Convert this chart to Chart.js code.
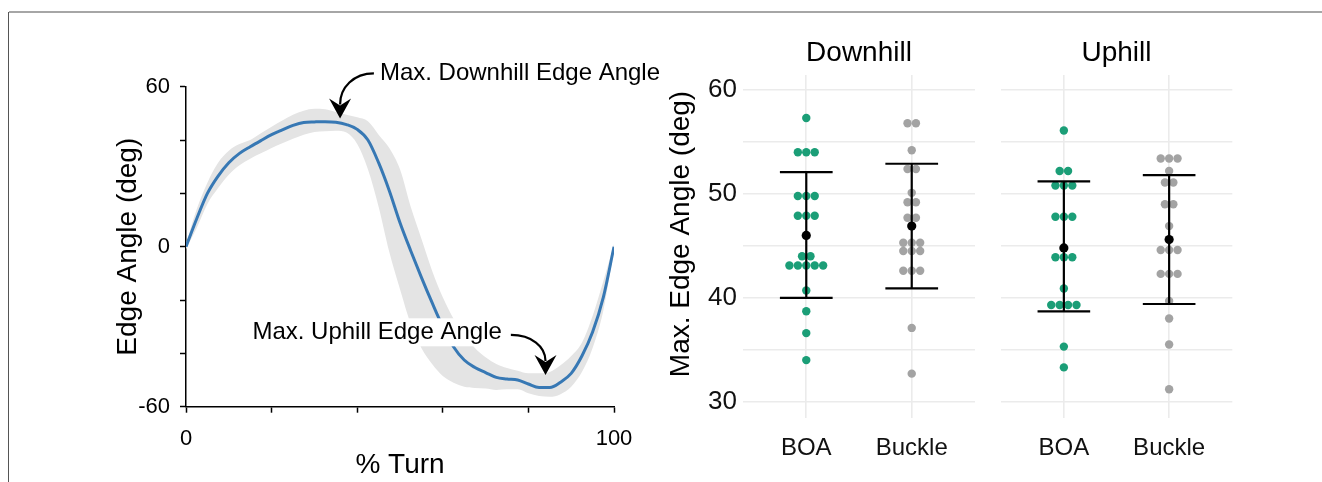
<!DOCTYPE html>
<html><head><meta charset="utf-8">
<script src="https://cdn.jsdelivr.net/npm/chart.js@4.4.1/dist/chart.umd.min.js"></script>
<style>
html,body{margin:0;padding:0;background:#fff;}
body{width:1322px;height:482px;position:relative;overflow:hidden;}
canvas{position:absolute;}
#bt{position:absolute;left:9px;top:11px;width:1313px;height:0;border-top:2px solid #a6a6a6;}
#bl{position:absolute;left:8px;top:12px;width:0;height:470px;border-left:1.5px solid #555;}
</style></head><body>
<div id="bt"></div><div id="bl"></div>
<canvas id="c1" width="660" height="482" style="left:0;top:0"></canvas>
<canvas id="c2" width="330" height="469" style="left:660px;top:13px"></canvas>
<canvas id="c3" width="332" height="469" style="left:990px;top:13px"></canvas>
<script>
// ---------- Left panel: edge angle over the turn ----------
const turnPct   = [0,2.5,5,7.5,10,12.5,15,17.5,20,22.5,25,27.5,30,32.5,35,37.5,40,42.5,45,47.5,50,52.5,55,57.5,60,62.5,65,67.5,70,72.5,75,77.5,80,82.5,85,87.5,90,92.5,95,97.5,100];
const edgeMean  = [0,10.5,20,26.5,31.5,35,37.5,39.8,42,43.8,45.5,46.6,46.8,46.9,46.7,45.8,44,40,31.5,21,9,-1.5,-11.5,-21,-30,-37.5,-42.5,-45.3,-47.2,-49,-49.6,-50,-51.5,-52.8,-52.8,-50.8,-47.5,-41,-32,-19,0];
const edgeUpper = [1,14,24,31.5,36,38.5,40,42.5,45,47.3,49.5,51,51.7,51.5,50.5,49.5,48.5,47,42,37,29,15,3,-9,-19,-27,-33,-38,-41.5,-44,-45.5,-46.5,-47.5,-47.5,-47,-44.5,-41,-36,-26,-13,1];
const edgeLower = [-1,7,16,22,27,30.5,33,35,37,38.8,40.5,42,43,43.3,43.5,42.8,38.5,29,15,-2,-16,-29,-38,-44,-48.5,-51,-52.5,-53,-53.2,-53.7,-53.5,-53.5,-55,-56,-56.3,-55.3,-52.5,-47,-38,-24,-1];
const edgeLabelTicks = [-60, 0, 60];
const turnLabelTicks = [0, 100];

// ---------- Right panels: max edge angle ----------
const conditions     = ['BOA', 'Buckle'];
const panelTitles    = ['Downhill', 'Uphill'];
const downhillBOA    = [57.3,54.0,54.0,54.0,49.8,49.8,49.8,47.9,47.9,47.9,44.0,44.0,43.1,43.1,43.1,43.1,43.1,40.7,38.7,36.6,34.0];
const downhillBuckle = [56.8,56.8,54.2,52.4,52.4,50.1,49.2,49.2,47.7,47.7,45.3,45.3,45.3,44.5,44.5,44.5,42.6,42.6,42.6,37.1,32.7];
const uphillBOA      = [56.1,52.2,52.2,50.8,50.8,50.8,47.8,47.8,47.8,43.9,43.9,43.9,40.9,39.3,39.3,39.3,39.3,35.3,33.3];
const uphillBuckle   = [53.4,53.4,53.4,52.2,51.1,51.1,49.0,49.0,46.9,44.6,44.6,44.6,42.3,42.3,42.3,39.7,38.0,35.5,31.2];
const downhillMean   = [46.0, 46.9];
const downhillLow    = [40.0, 40.9];
const downhillHigh   = [52.1, 52.9];
const uphillMean     = [44.8, 45.6];
const uphillLow      = [38.7, 39.4];
const uphillHigh     = [51.2, 51.8];
const maxAngleTicks  = [30, 35, 40, 45, 50, 55, 60];
const maxAngleLabels = [30, 40, 50, 60];

Chart.defaults.font.family = "'Liberation Sans', Arial, Helvetica, sans-serif";
Chart.defaults.color = '#000';
Chart.defaults.animation = false;

const FONT = "'Liberation Sans', Arial, Helvetica, sans-serif";

// annotations (positions in data units of the left chart)
const annotationDefs = [
  {text:'Max. Downhill Edge Angle', textX:45.3, textY:65.0, align:'left',  startX:43.9, startY:65.0, tipX:36.0, tipY:48.1, bg:false},
  {text:'Max. Uphill Edge Angle',   textX:73.8, textY:-32.1, align:'right', startX:75.9, startY:-33.1, tipX:84.0, tipY:-48.1, bg:true}
];

const annotationPlugin = {
  id: 'annot',
  afterDraw(chart) {
    const ctx = chart.ctx, xs = chart.scales.x, ys = chart.scales.y;
    ctx.save();
    ctx.font = '24px ' + FONT;
    annotationDefs.forEach(a => {
      const tx = xs.getPixelForValue(a.textX), ty = ys.getPixelForValue(a.textY);
      const w = ctx.measureText(a.text).width;
      if (a.bg) {
        ctx.fillStyle = '#fff';
        const left = a.align === 'right' ? tx - w : tx;
        ctx.fillRect(left - 3, ty - 14, w + 6, 28);
      }
      ctx.fillStyle = '#000';
      ctx.textAlign = a.align;
      ctx.textBaseline = 'middle';
      ctx.fillText(a.text, tx, ty);
      // arrow
      const sx = xs.getPixelForValue(a.startX), sy = ys.getPixelForValue(a.startY);
      const px = xs.getPixelForValue(a.tipX), py = ys.getPixelForValue(a.tipY);
      const headLen = 18, headHalf = 11;
      const bx = px, by = py - headLen + 4;
      ctx.beginPath();
      ctx.moveTo(sx, sy);
      ctx.bezierCurveTo(sx + (bx - sx) * 0.6, sy, bx, sy + (by - sy) * 0.45, bx, by);
      ctx.lineWidth = 2.2;
      ctx.strokeStyle = '#000';
      ctx.stroke();
      ctx.beginPath();
      ctx.moveTo(px, py);
      ctx.lineTo(px - headHalf, py - headLen - 2);
      ctx.lineTo(px, py - headLen + 5);
      ctx.lineTo(px + headHalf, py - headLen - 2);
      ctx.closePath();
      ctx.fillStyle = '#000';
      ctx.fill();
    });
    ctx.restore();
  }
};

const pts = arr => turnPct.map((x, i) => ({x, y: arr[i]}));

new Chart(document.getElementById('c1'), {
  type: 'line',
  data: {
    datasets: [
      {data: pts(edgeMean), borderColor: '#3778b4', borderWidth: 3, pointRadius: 0, fill: false, cubicInterpolationMode: 'monotone', order: 0},
      {data: pts(edgeUpper), borderWidth: 0, borderColor: 'rgba(0,0,0,0)', pointRadius: 0, fill: '+1', backgroundColor: '#e4e4e4', cubicInterpolationMode: 'monotone', order: 2},
      {data: pts(edgeLower), borderWidth: 0, borderColor: 'rgba(0,0,0,0)', pointRadius: 0, fill: false, cubicInterpolationMode: 'monotone', order: 3}
    ]
  },
  options: {
    responsive: false,
    layout: {padding: {left: 100, right: 46, top: 86.7, bottom: 0.3}},
    plugins: {legend: {display: false}, tooltip: {enabled: false}},
    scales: {
      x: {
        type: 'linear', min: 0, max: 100,
        ticks: {stepSize: 20, autoSkip: false, maxRotation: 0, font: {size: 22}, color: '#000', padding: 13,
                callback: v => turnLabelTicks.includes(v) ? String(v) : ''},
        grid: {drawOnChartArea: false, drawTicks: true, tickLength: 6, tickColor: '#000', tickWidth: 1.5},
        border: {color: '#000', width: 1.5},
        title: {display: true, text: '% Turn', font: {size: 28}, color: '#000', padding: 0},
        afterFit: s => { s.height = 75; }
      },
      y: {
        type: 'linear', min: -60, max: 60,
        ticks: {stepSize: 20, autoSkip: false, font: {size: 22}, color: '#000', padding: 10,
                callback: v => edgeLabelTicks.includes(v) ? String(v) : ''},
        grid: {drawOnChartArea: false, drawTicks: true, tickLength: 6, tickColor: '#000', tickWidth: 1.5},
        border: {color: '#000', width: 1.5},
        title: {display: true, text: 'Edge Angle (deg)', font: {size: 28}, color: '#000', padding: {top: 11.5, bottom: 0}},
        afterFit: s => { s.width = 86; }
      }
    }
  },
  plugins: [annotationPlugin]
});

// ---------- beeswarm helper ----------
function swarm(values, center, spacing) {
  const counts = {}, seen = {};
  values.forEach(v => { counts[v] = (counts[v] || 0) + 1; });
  return values.map(v => {
    const k = counts[v], i = seen[v] || 0;
    seen[v] = i + 1;
    return {x: center + (i - (k - 1) / 2) * spacing, y: v};
  });
}

const yTitlePlugin = {
  id: 'ytitle',
  afterDraw(chart, args, opts) {
    if (!opts.text) return;
    const ctx = chart.ctx;
    ctx.save();
    ctx.font = '28px ' + FONT;
    ctx.fillStyle = '#000';
    ctx.textAlign = 'center';
    ctx.textBaseline = 'middle';
    ctx.translate(opts.x, (chart.chartArea.top + chart.chartArea.bottom) / 2 + opts.dy);
    ctx.rotate(-Math.PI / 2);
    ctx.fillText(opts.text, 0, 0);
    ctx.restore();
  }
};

function makePanel(canvasId, title, boa, buckle, mean, low, high, showY, axisWidth, padRight) {
  const spacing = 0.08, cap = 0.25;
  const datasets = [];
  datasets.push({data: [{x: 1, y: mean[0]}, {x: 2, y: mean[1]}], backgroundColor: '#000', pointRadius: 4.6, pointBorderWidth: 0, order: 0});
  [0, 1].forEach(i => {
    const c = i + 1;
    const line = {showLine: true, borderColor: '#000', borderWidth: 2.2, pointRadius: 0, order: 1};
    datasets.push(Object.assign({data: [{x: c, y: low[i]}, {x: c, y: high[i]}]}, line));
    datasets.push(Object.assign({data: [{x: c - cap, y: high[i]}, {x: c + cap, y: high[i]}]}, line));
    datasets.push(Object.assign({data: [{x: c - cap, y: low[i]}, {x: c + cap, y: low[i]}]}, line));
  });
  datasets.push({data: swarm(boa, 1, spacing), backgroundColor: '#1b9e77', pointRadius: 4.2, pointBorderWidth: 0, order: 3});
  datasets.push({data: swarm(buckle, 2, spacing), backgroundColor: '#a3a3a3', pointRadius: 4.2, pointBorderWidth: 0, order: 3});

  return new Chart(document.getElementById(canvasId), {
    type: 'scatter',
    data: {datasets},
    options: {
      responsive: false,
      layout: {padding: {left: 0, right: padRight, top: 0, bottom: 0}},
      plugins: {
        legend: {display: false}, tooltip: {enabled: false},
        title: {display: true, text: title, fullSize: false, font: {size: 28, weight: 'normal'}, color: '#000', padding: {top: 23.2, bottom: 5.2}},
        ytitle: showY ? {text: 'Max. Edge Angle (deg)', x: 21.7, dy: -12.5} : {text: ''}
      },
      scales: {
        x: {
          type: 'linear', min: 0.4, max: 2.6,
          afterBuildTicks: s => { s.ticks = [1, 2].map(v => ({value: v})); },
          ticks: {autoSkip: false, maxRotation: 0, font: {size: 24}, color: '#111', padding: 16,
                  callback: v => conditions[Math.round(v) - 1]},
          grid: {color: '#ebebeb', lineWidth: 1.6, drawTicks: false},
          border: {display: false},
          afterFit: s => { s.height = 64; }
        },
        y: {
          type: 'linear', min: 28.43, max: 61.44,
          afterBuildTicks: s => { s.ticks = maxAngleTicks.map(v => ({value: v})); },
          ticks: {display: showY, autoSkip: false, font: {size: 26}, color: '#111', padding: 6,
                  callback: v => maxAngleLabels.includes(v) ? String(v) : ''},
          grid: {color: '#ebebeb', lineWidth: 1.6, drawTicks: false},
          border: {display: false},
          afterFit: s => { s.width = axisWidth; }
        }
      }
    },
    plugins: [yTitlePlugin]
  });
}

makePanel('c2', panelTitles[0], downhillBOA, downhillBuckle, downhillMean, downhillLow, downhillHigh, true, 83, 15);
makePanel('c3', panelTitles[1], uphillBOA, uphillBuckle, uphillMean, uphillLow, uphillHigh, false, 10.7, 89.7);
</script>
</body></html>
